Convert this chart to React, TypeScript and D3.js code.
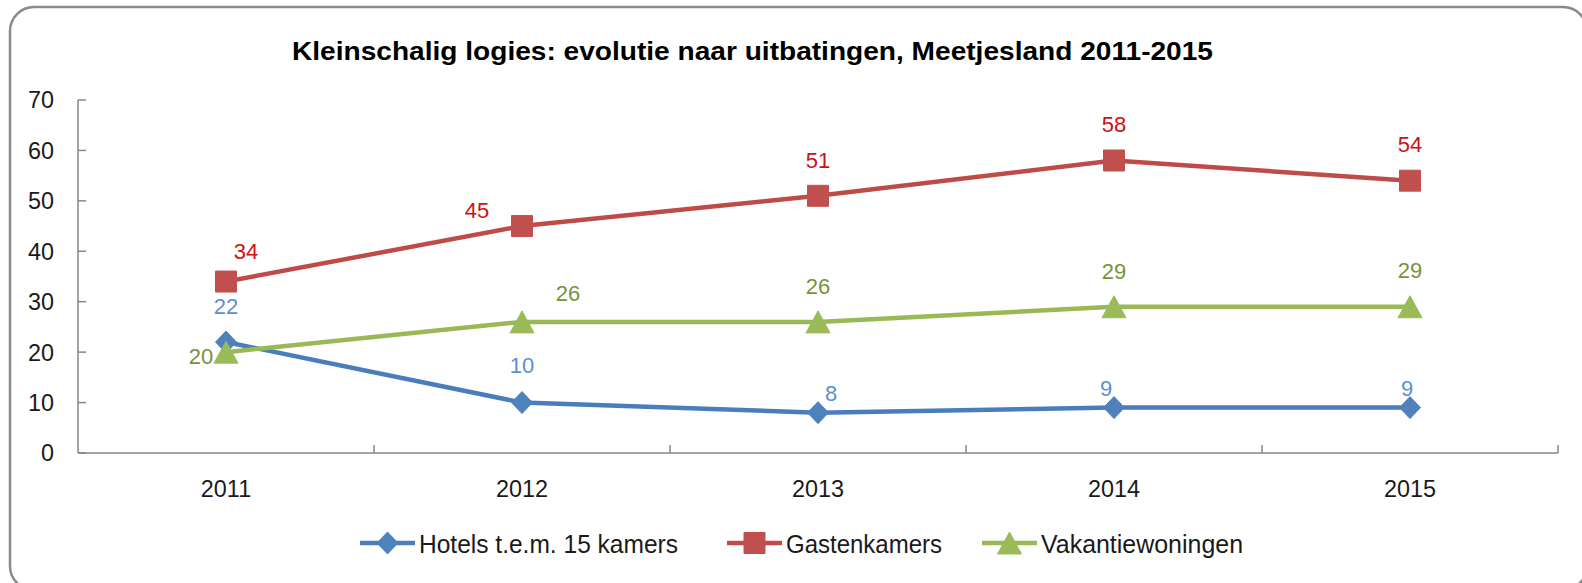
import React from "react";
import * as d3 from "d3";

const years = ["2011", "2012", "2013", "2014", "2015"];
const hotels = [22, 10, 8, 9, 9];
const gastenkamers = [34, 45, 51, 58, 54];
const vakantiewoningen = [20, 26, 26, 29, 29];
const yTicks = [0, 10, 20, 30, 40, 50, 60, 70];
const seriesNames = ["Hotels t.e.m. 15 kamers", "Gastenkamers", "Vakantiewoningen"];
const title = "Kleinschalig logies: evolutie naar uitbatingen, Meetjesland 2011-2015";

// layout (label offsets relative to each point, in px)
const labelOffsets = [
  [[0, -36], [0, -37], [13, -20], [-8, -20], [-3, -20]],
  [[20, -30], [-45, -16], [0, -36], [0, -36], [0, -37]],
  [[-25, 4], [46, -29], [0, -36], [0, -36], [0, -37]],
];
const lineColors = ["#4A7EBB", "#BE4B48", "#98B954"];
const fillColors = ["#4F81BD", "#C0504D", "#9BBB59"];
const labelColors = ["#5B8FD3", "#CC1111", "#77933C"];
const markers = ["diamond", "square", "triangle"];
const legendX = [360, 727, 982];
const legendTextW = [259, 156, 202];

const W = 1582, H = 583;
const left = 78, right = 1558, top = 100, bottom = 453;
const FONT = "'Liberation Sans', Arial, sans-serif";

function markerPath(kind: string, cx: number, cy: number): string {
  const p = d3.path();
  if (kind === "diamond") {
    p.moveTo(cx, cy - 11);
    p.lineTo(cx + 10.5, cy);
    p.lineTo(cx, cy + 11);
    p.lineTo(cx - 10.5, cy);
    p.closePath();
  } else if (kind === "square") {
    p.rect(cx - 10.5, cy - 10.5, 21, 21);
  } else {
    p.moveTo(cx, cy - 11);
    p.lineTo(cx + 12, cy + 11);
    p.lineTo(cx - 12, cy + 11);
    p.closePath();
  }
  return p.toString();
}

export default function App() {
  const x = d3.scaleBand<string>().domain(years).range([left, right]);
  const bw = x.bandwidth();
  const cx = (yr: string) => (x(yr) as number) + bw / 2;
  const y = d3.scaleLinear().domain([0, 70]).range([bottom, top]);
  const data = [hotels, gastenkamers, vakantiewoningen];
  const line = d3
    .line<number>()
    .x((_, i) => cx(years[i]))
    .y((d) => y(d));
  const boundaries = years.map((yr) => (x(yr) as number) + bw);

  return (
    <svg
      width={W}
      height={H}
      style={{ position: "absolute", left: 0, top: 0, background: "#fff" }}
      fontFamily={FONT}
    >
      <rect x={10} y={7} width={1577} height={583} rx={24} ry={24} fill="#fff" stroke="#8A8A8A" strokeWidth={2.5} />
      <text x={752.5} y={60} textAnchor="middle" fontSize={26} fontWeight="bold" fill="#000" textLength={921} lengthAdjust="spacingAndGlyphs">
        {title}
      </text>

      {/* y axis */}
      <line x1={left} x2={left} y1={top} y2={bottom} stroke="#868686" strokeWidth={1.5} />
      {yTicks.map((t) => (
        <g key={t}>
          <line x1={left} x2={left + 8} y1={y(t)} y2={y(t)} stroke="#868686" strokeWidth={1.5} />
          <text x={54} y={y(t)} dy="0.36em" textAnchor="end" fontSize={23.4} fill="#1a1a1a">
            {t}
          </text>
        </g>
      ))}
      {/* x axis */}
      <line x1={left} x2={right} y1={bottom} y2={bottom} stroke="#868686" strokeWidth={1.5} />
      {boundaries.map((b, i) => (
        <line key={i} x1={b} x2={b} y1={bottom} y2={bottom - 8} stroke="#868686" strokeWidth={1.5} />
      ))}
      {years.map((yr) => (
        <text key={yr} x={cx(yr)} y={497} textAnchor="middle" fontSize={23.4} fill="#1a1a1a">
          {yr}
        </text>
      ))}

      {/* series */}
      {data.map((vals, si) => (
        <g key={si}>
          <path d={line(vals) as string} fill="none" stroke={lineColors[si]} strokeWidth={4.5} strokeLinejoin="round" strokeLinecap="round" />
        </g>
      ))}
      {data.map((vals, si) => (
        <g key={"m" + si}>
          {vals.map((v, i) => (
            <path key={i} d={markerPath(markers[si], cx(years[i]), y(v))} fill={fillColors[si]} stroke={fillColors[si]} strokeWidth={1} />
          ))}
        </g>
      ))}
      {data.map((vals, si) => (
        <g key={"l" + si}>
          {vals.map((v, i) => (
            <text
              key={i}
              x={cx(years[i]) + labelOffsets[si][i][0]}
              y={y(v) + labelOffsets[si][i][1]}
              dy="0.36em"
              textAnchor="middle"
              fontSize={22}
              fill={labelColors[si]}
            >
              {v}
            </text>
          ))}
        </g>
      ))}

      {/* legend */}
      {seriesNames.map((name, si) => (
        <g key={name}>
          <line x1={legendX[si]} x2={legendX[si] + 55} y1={543} y2={543} stroke={lineColors[si]} strokeWidth={4.5} />
          <path d={markerPath(markers[si], legendX[si] + 27.5, 543)} fill={fillColors[si]} stroke={fillColors[si]} strokeWidth={1} />
          <text x={legendX[si] + 59} y={553} fontSize={25} fill="#1a1a1a" textLength={legendTextW[si]} lengthAdjust="spacingAndGlyphs">
            {name}
          </text>
        </g>
      ))}
    </svg>
  );
}
